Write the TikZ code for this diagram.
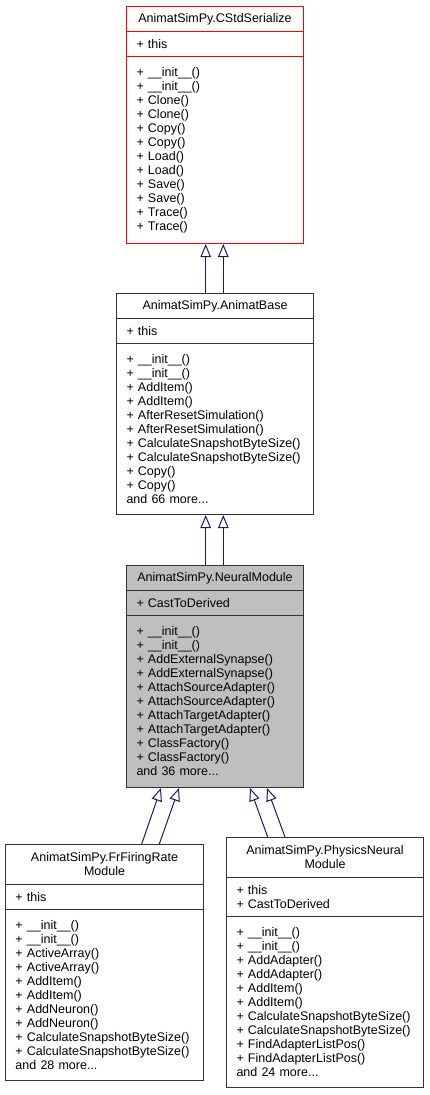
\documentclass[tikz,border=0pt]{standalone}
\usepackage{fontspec}
\setmainfont{Liberation Sans}
\usetikzlibrary{arrows.meta,calc}
\definecolor{edgeblue}{RGB}{25,25,112}
\definecolor{classgray}{RGB}{191,191,191}
\definecolor{classred}{RGB}{255,0,0}
\begin{document}
\begin{tikzpicture}[x=1pt,y=-1pt,
  comp/.style={draw=black!80, line width=1pt, fill=white, inner xsep=10pt, inner ysep=0pt,
    anchor=north west, font=\fontsize{12.5}{14}\selectfont},
  titlec/.style={comp, align=center},
  listc/.style={comp, align=left},
  redc/.style={draw=classred},
  grayc/.style={fill=classgray},
  inh/.style={draw=edgeblue, line width=1pt, -{Triangle[open, length=13pt, width=10.5pt]}}
]
\fill[white] (0,0) rectangle (429,1095);
\useasboundingbox (0,0) rectangle (429,1095);

% Box 1: CStdSerialize
\node[titlec, redc, minimum width=177pt, text width=157pt, minimum height=25pt] (b1t) at (126,6) {AnimatSimPy.CStdSerialize};
\node[listc, redc, minimum width=177pt, text width=157pt, minimum height=25pt] (b1a) at (126,31) {+ this};
\node[listc, redc, minimum width=177pt, text width=157pt, minimum height=187pt] (b1m) at (126,56)
 {+ \_\_init\_\_()\\+ \_\_init\_\_()\\+ Clone()\\+ Clone()\\+ Copy()\\+ Copy()\\+ Load()\\+ Load()\\+ Save()\\+ Save()\\+ Trace()\\+ Trace()};

% Box 2: AnimatBase
\node[titlec, minimum width=197pt, text width=177pt, minimum height=25pt] (b2t) at (116,293) {AnimatSimPy.AnimatBase};
\node[listc, minimum width=197pt, text width=177pt, minimum height=25pt] (b2a) at (116,318) {+ this};
\node[listc, minimum width=197pt, text width=177pt, minimum height=171pt] (b2m) at (116,343)
 {+ \_\_init\_\_()\\+ \_\_init\_\_()\\+ AddItem()\\+ AddItem()\\+ AfterResetSimulation()\\+ AfterResetSimulation()\\+ CalculateSnapshotByteSize()\\+ CalculateSnapshotByteSize()\\+ Copy()\\+ Copy()\\and 66 more...};

% Box 3: NeuralModule
\node[titlec, grayc, minimum width=177pt, text width=157pt, minimum height=25pt] (b3t) at (126,565) {AnimatSimPy.NeuralModule};
\node[listc, grayc, minimum width=177pt, text width=157pt, minimum height=25pt] (b3a) at (126,590) {+ CastToDerived};
\node[listc, grayc, minimum width=177pt, text width=157pt, minimum height=172pt] (b3m) at (126,615)
 {+ \_\_init\_\_()\\+ \_\_init\_\_()\\+ AddExternalSynapse()\\+ AddExternalSynapse()\\+ AttachSourceAdapter()\\+ AttachSourceAdapter()\\+ AttachTargetAdapter()\\+ AttachTargetAdapter()\\+ ClassFactory()\\+ ClassFactory()\\and 36 more...};

% Box 4: FrFiringRateModule
\node[titlec, minimum width=198pt, text width=178pt, minimum height=40pt] (b4t) at (5,844) {AnimatSimPy.FrFiringRate\\Module};
\node[listc, minimum width=198pt, text width=178pt, minimum height=25pt] (b4a) at (5,884) {+ this};
\node[listc, minimum width=198pt, text width=178pt, minimum height=171pt] (b4m) at (5,909)
 {+ \_\_init\_\_()\\+ \_\_init\_\_()\\+ ActiveArray()\\+ ActiveArray()\\+ AddItem()\\+ AddItem()\\+ AddNeuron()\\+ AddNeuron()\\+ CalculateSnapshotByteSize()\\+ CalculateSnapshotByteSize()\\and 28 more...};

% Box 5: PhysicsNeuralModule
\node[titlec, minimum width=197pt, text width=177pt, minimum height=40pt] (b5t) at (226,837) {AnimatSimPy.PhysicsNeural\\Module};
\node[listc, minimum width=197pt, text width=177pt, minimum height=39pt] (b5a) at (226,877) {+ this\\+ CastToDerived};
\node[listc, minimum width=197pt, text width=177pt, minimum height=171pt] (b5m) at (226,916)
 {+ \_\_init\_\_()\\+ \_\_init\_\_()\\+ AddAdapter()\\+ AddAdapter()\\+ AddItem()\\+ AddItem()\\+ CalculateSnapshotByteSize()\\+ CalculateSnapshotByteSize()\\+ FindAdapterListPos()\\+ FindAdapterListPos()\\and 24 more...};

% Inheritance connectors
\draw[inh] ([xshift=89.7pt]b2t.north west) -- ([xshift=79.7pt]b1m.south west);
\draw[inh] ([xshift=107.3pt]b2t.north west) -- ([xshift=97.3pt]b1m.south west);
\draw[inh] ([xshift=79.7pt]b3t.north west) -- ([xshift=89.7pt]b2m.south west);
\draw[inh] ([xshift=97.3pt]b3t.north west) -- ([xshift=107.3pt]b2m.south west);
\draw[inh] ([xshift=136.7pt]b4t.north west) -- ([xshift=35pt]b3m.south west);
\draw[inh] ([xshift=154.3pt]b4t.north west) -- ([xshift=53pt]b3m.south west);
\draw[inh] ([xshift=41.7pt]b5t.north west) -- ([xshift=124pt]b3m.south west);
\draw[inh] ([xshift=59pt]b5t.north west) -- ([xshift=141pt]b3m.south west);
\end{tikzpicture}
\end{document}
